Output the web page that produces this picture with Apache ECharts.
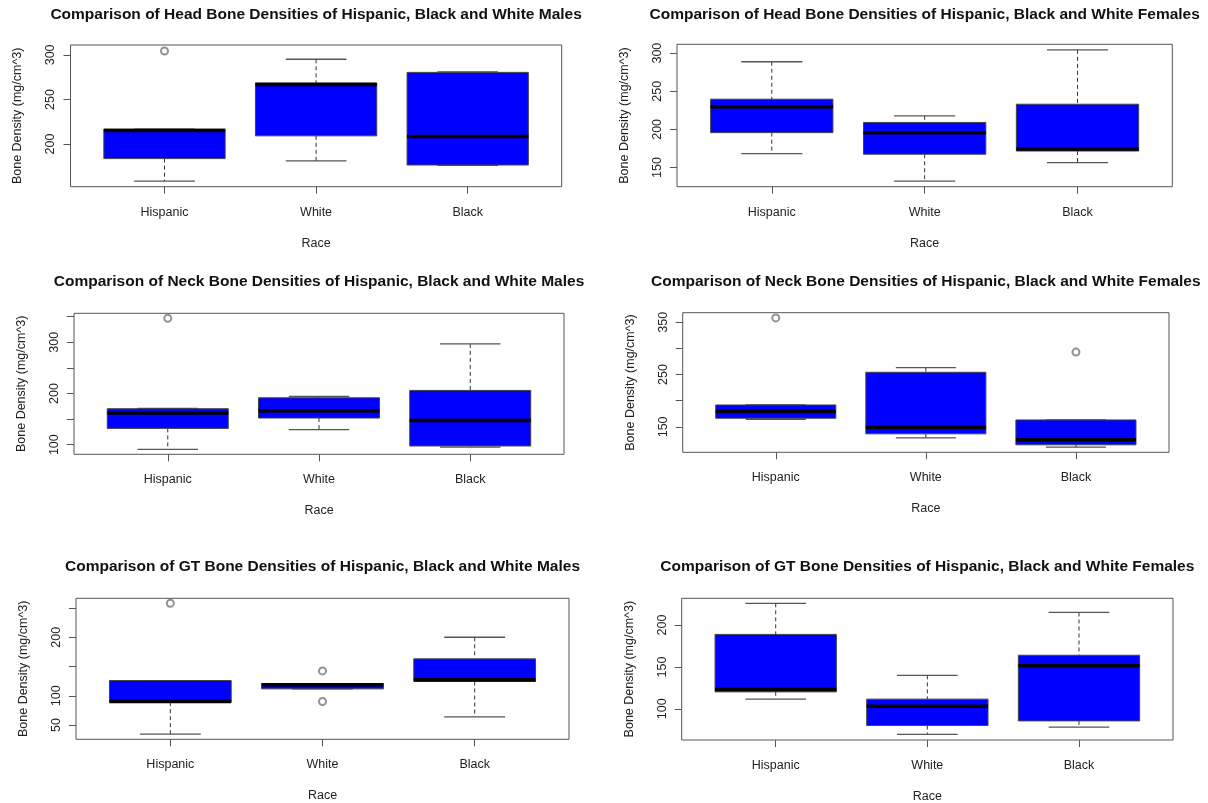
<!DOCTYPE html>
<html>
<head>
<meta charset="utf-8">
<title>Bone densities by race</title>
<script src="https://cdn.jsdelivr.net/npm/echarts@6/dist/echarts.min.js"></script>
<style>
  html, body { margin: 0; padding: 0; background: #fff; }
  #chart { width: 1208px; height: 803px; }
</style>
</head>
<body>
<div id="chart"></div>
<script>
// categories, in plotting order
var races = ['Hispanic', 'White', 'Black'];

// box stats per race: [lower whisker, Q1, median, Q3, upper whisker]
var headMales = [[158.5, 183.7, 215.1, 216.7, 216.7], [181.1, 209.2, 266.7, 268.5, 295.1], [176.2, 176.5, 208.5, 280.4, 280.9]];
var headFemales = [[168.3, 195.7, 229.7, 239.6, 288.7], [132.1, 167.4, 195.6, 209.1, 217.8], [156.5, 171.6, 174.4, 233, 304.3]];
var neckMales = [[90.9, 131.8, 161.7, 170.2, 171], [129.2, 152, 166.3, 191.5, 194.1], [95.4, 97.4, 147.4, 205.9, 296.7]];
var neckFemales = [[164.6, 166.5, 179.2, 191.9, 192], [129, 136.7, 148.7, 254.4, 263.3], [111.3, 115.7, 125.2, 163.3, 163.3]];
var gtMales = [[34.7, 89.2, 90.3, 126.1, 126.1], [111.9, 111.9, 118.8, 121, 121], [64.2, 124.4, 127.3, 163.1, 200]];
var gtFemales = [[111.6, 120.3, 123.2, 188.9, 226], [69.4, 80.1, 103.2, 111.6, 140], [78.1, 85.6, 151.6, 164, 215.1]];

// outliers: [race, value]
var headMalesOut = [['Hispanic', 304.4]];
var headFemalesOut = [];
var neckMalesOut = [['Hispanic', 346.7]];
var neckFemalesOut = [['Hispanic', 358.3], ['Black', 293]];
var gtMalesOut = [['Hispanic', 258], ['White', 142.6], ['White', 90.3]];
var gtFemalesOut = [];

// y axis ticks and the ticks R kept a label on
var headMalesTicks = [200, 250, 300], headMalesLabels = [200, 250, 300];
var headFemalesTicks = [150, 200, 250, 300], headFemalesLabels = [150, 200, 250, 300];
var neckMalesTicks = [100, 150, 200, 250, 300, 350], neckMalesLabels = [100, 200, 300];
var neckFemalesTicks = [150, 200, 250, 300, 350], neckFemalesLabels = [150, 250, 350];
var gtMalesTicks = [50, 100, 150, 200, 250], gtMalesLabels = [50, 100, 200];
var gtFemalesTicks = [100, 150, 200], gtFemalesLabels = [100, 150, 200];

var panels = [
    {title: 'Comparison of Head Bone Densities of Hispanic, Black and White Males', stats: headMales, out: headMalesOut, ticks: headMalesTicks, labels: headMalesLabels,
     box: [70.5, 45, 561.7, 186.7], range: [152.2, 311.1], titleY: 15},
    {title: 'Comparison of Head Bone Densities of Hispanic, Black and White Females', stats: headFemales, out: headFemalesOut, ticks: headFemalesTicks, labels: headFemalesLabels,
     box: [677, 44.3, 1172.3, 186.7], range: [124.8, 311.6], titleY: 15},
    {title: 'Comparison of Neck Bone Densities of Hispanic, Black and White Males', stats: neckMales, out: neckMalesOut, ticks: neckMalesTicks, labels: neckMalesLabels,
     box: [74, 313.3, 564, 454.3], range: [81.2, 356.5], titleY: 281.7},
    {title: 'Comparison of Neck Bone Densities of Hispanic, Black and White Females', stats: neckFemales, out: neckFemalesOut, ticks: neckFemalesTicks, labels: neckFemalesLabels,
     box: [682.7, 312.7, 1169, 452.3], range: [101.4, 368.3], titleY: 281.7},
    {title: 'Comparison of GT Bone Densities of Hispanic, Black and White Males', stats: gtMales, out: gtMalesOut, ticks: gtMalesTicks, labels: gtMalesLabels,
     box: [76, 598.3, 569, 739.3], range: [25.8, 266.5], titleY: 566.7},
    {title: 'Comparison of GT Bone Densities of Hispanic, Black and White Females', stats: gtFemales, out: gtFemalesOut, ticks: gtFemalesTicks, labels: gtFemalesLabels,
     box: [681.7, 598.3, 1173, 740], range: [62.8, 232], titleY: 566.7}
];

var FONT = '"Liberation Sans", Arial, Helvetica, sans-serif';
var TXT = '#222';

// draws one R style box: dashed whiskers, staples, blue box, thick median
function renderBox(params, api) {
    var x = api.value(0);
    var lo = api.value(1), q1 = api.value(2), med = api.value(3), q3 = api.value(4), hi = api.value(5);
    var p = function (xx, v) { return api.coord([xx, v]); };
    var kids = [];
    var dash = {stroke: '#333', lineWidth: 1, lineDash: [4, 3]};
    var staple = {stroke: '#555', lineWidth: 1.3};
    if (hi > q3) {
        kids.push({type: 'line', shape: {x1: p(x, 0)[0], y1: p(x, hi)[1], x2: p(x, 0)[0], y2: p(x, q3)[1]}, style: dash});
    }
    if (lo < q1) {
        kids.push({type: 'line', shape: {x1: p(x, 0)[0], y1: p(x, q1)[1], x2: p(x, 0)[0], y2: p(x, lo)[1]}, style: dash});
    }
    kids.push({type: 'line', shape: {x1: p(x - 0.2, hi)[0], y1: p(x, hi)[1], x2: p(x + 0.2, hi)[0], y2: p(x, hi)[1]}, style: staple});
    kids.push({type: 'line', shape: {x1: p(x - 0.2, lo)[0], y1: p(x, lo)[1], x2: p(x + 0.2, lo)[0], y2: p(x, lo)[1]}, style: staple});
    var a = p(x - 0.4, q3), b = p(x + 0.4, q1);
    kids.push({type: 'rect', shape: {x: a[0], y: a[1], width: b[0] - a[0], height: b[1] - a[1]},
        style: {fill: '#0000ff', stroke: '#444', lineWidth: 1}});
    kids.push({type: 'line', shape: {x1: a[0], y1: p(x, med)[1], x2: b[0], y2: p(x, med)[1]},
        style: {stroke: '#000', lineWidth: 3.5}});
    return {type: 'group', children: kids};
}

var option = {
    animation: false,
    backgroundColor: '#fff',
    textStyle: {fontFamily: FONT},
    title: [], grid: [], xAxis: [], yAxis: [], series: []
};

panels.forEach(function (pn, i) {
    var L = pn.box[0], T = pn.box[1], R = pn.box[2], B = pn.box[3];
    option.title.push({
        text: pn.title, left: (L + R) / 2, top: pn.titleY - 8, textAlign: 'center', padding: 0,
        textStyle: {fontFamily: FONT, fontWeight: 'bold', fontSize: 15.5, color: '#111'}
    });
    option.grid.push({
        left: L, top: T, width: R - L, height: B - T, show: true,
        borderColor: '#555', borderWidth: 1, backgroundColor: 'transparent', outerBoundsMode: 'none'
    });
    option.xAxis.push({
        gridIndex: i, type: 'value', min: 0.38, max: 3.62,
        name: 'Race', nameLocation: 'middle', nameGap: 50,
        nameTextStyle: {fontFamily: FONT, fontSize: 12.5, color: TXT},
        axisLine: {show: false}, splitLine: {show: false},
        axisTick: {show: true, length: 7, customValues: [1, 2, 3], lineStyle: {color: '#555'}},
        axisLabel: {customValues: [1, 2, 3], margin: 19, fontFamily: FONT, fontSize: 12.5, color: TXT,
            formatter: function (v) { return races[Math.round(v) - 1]; }}
    });
    option.yAxis.push({
        gridIndex: i, type: 'value', min: pn.range[0], max: pn.range[1],
        name: 'Bone Density (mg/cm^3)', nameLocation: 'middle', nameGap: 46,
        nameTextStyle: {fontFamily: FONT, fontSize: 12.5, color: TXT},
        axisLine: {show: false}, splitLine: {show: false},
        axisTick: {show: true, length: 7, customValues: pn.ticks, lineStyle: {color: '#555'}},
        axisLabel: {customValues: pn.labels, rotate: 90, margin: 13, fontFamily: FONT, fontSize: 12.5, color: TXT}
    });
    option.series.push({
        type: 'custom', xAxisIndex: i, yAxisIndex: i,
        renderItem: renderBox,
        encode: {x: 0, y: [1, 2, 3, 4, 5]},
        data: pn.stats.map(function (s, k) { return [k + 1].concat(s); }),
        z: 2
    });
    option.series.push({
        type: 'scatter', xAxisIndex: i, yAxisIndex: i,
        symbol: 'emptyCircle', symbolSize: 7,
        itemStyle: {color: '#777', borderColor: '#777', borderWidth: 1.2},
        data: pn.out.map(function (o) { return [races.indexOf(o[0]) + 1, o[1]]; }),
        z: 3
    });
});

var chart = echarts.init(document.getElementById('chart'));
chart.setOption(option);
</script>
</body>
</html>
